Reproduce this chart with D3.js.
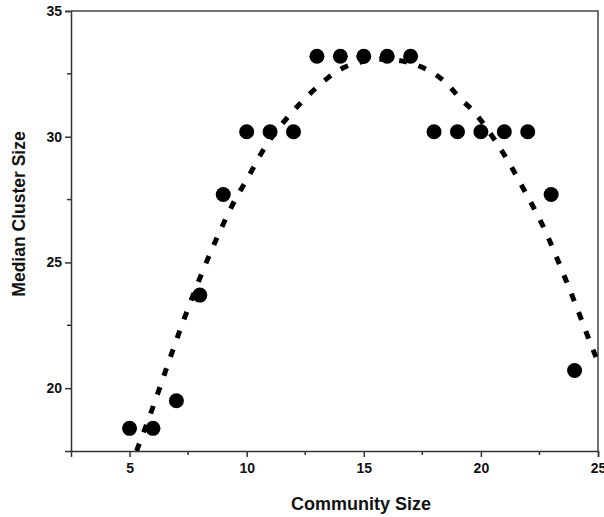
<!DOCTYPE html>
<html>
<head>
<meta charset="utf-8">
<script src="https://cdn.jsdelivr.net/npm/d3@7"></script>
<style>
  body { margin: 0; background: #fff; }
  text { font-family: "Liberation Sans", Arial, sans-serif; font-weight: bold; fill: #111; }
</style>
</head>
<body>
<div id="chart"></div>
<script>
// observed medians
const communitySize = [5, 6, 7, 8, 9, 10, 11, 12, 13, 14, 15, 16, 17, 18, 19, 20, 21, 22, 23, 24];
const medianCluster = [18.4, 18.4, 19.5, 23.7, 27.7, 30.2, 30.2, 30.2, 33.2, 33.2, 33.2, 33.2, 33.2,
  30.2, 30.2, 30.2, 30.2, 30.2, 27.7, 20.7];

// fitted curve
const fitX = [5.3, 6.0, 6.64, 7.28, 7.97, 8.69, 9.5, 10.0, 10.9, 12.1, 13.47, 14.2, 15.0, 15.9, 16.8,
  17.74, 18.47, 19.1, 19.75, 20.9, 21.8, 22.65, 23.42, 24.1, 24.79, 25.0];
const fitY = [17.5, 19.25, 20.96, 22.63, 24.3, 25.89, 27.48, 28.28, 29.75, 31.14, 32.34, 32.77, 33.0, 33.08, 32.98,
  32.65, 32.18, 31.54, 30.94, 29.43, 27.96, 26.45, 24.78, 23.19, 21.52, 21.05];

const xTicks = [5, 10, 15, 20, 25];
const yTicks = [20, 25, 30, 35];
const xMinor = [7.5, 12.5, 17.5, 22.5];
const yMinor = [22.5, 27.5, 32.5];

const width = 604, height = 517;
const margin = { top: 11, right: 6, bottom: 66, left: 71 };
const w = width - margin.left - margin.right,
  h = height - margin.top - margin.bottom;

const x = d3.scaleLinear().domain([2.5, 25]).range([0, w]);
const y = d3.scaleLinear().domain([17.5, 35]).range([h, 0]);

const svg = d3.select("#chart").append("svg")
  .attr("width", width)
  .attr("height", height);

svg.append("defs").append("clipPath")
  .attr("id", "clip")
  .append("rect")
  .attr("width", w)
  .attr("height", h);

const g = svg.append("g")
  .attr("transform", "translate(" + margin.left + "," + margin.top + ")");

// axes
const xAxis = d3.axisBottom(x).tickValues(xTicks).tickSize(6).tickPadding(6);
const yAxis = d3.axisLeft(y).tickValues(yTicks).tickSize(6).tickPadding(3);

const gx = g.append("g")
  .attr("transform", "translate(0," + h + ")")
  .call(xAxis);
const gy = g.append("g").call(yAxis);

[gx, gy].forEach(a => {
  a.select(".domain").attr("stroke", "#333").attr("stroke-width", 1.5);
  a.selectAll(".tick line").attr("stroke", "#333").attr("stroke-width", 1.5);
  a.selectAll("text").attr("font-size", 14).attr("font-weight", "bold")
    .attr("font-family", "'Liberation Sans', Arial, sans-serif").attr("fill", "#111");
});

// minor ticks
g.append("g").selectAll("line").data(xMinor).enter().append("line")
  .attr("x1", d => x(d)).attr("x2", d => x(d))
  .attr("y1", h).attr("y2", h + 4)
  .attr("stroke", "#333").attr("stroke-width", 1.5);
g.append("g").selectAll("line").data(yMinor).enter().append("line")
  .attr("x1", 0).attr("x2", -4)
  .attr("y1", d => y(d)).attr("y2", d => y(d))
  .attr("stroke", "#333").attr("stroke-width", 1.5);

// frame top & right
g.append("path")
  .attr("d", "M0,0H" + w + "V" + h)
  .attr("fill", "none")
  .attr("stroke", "#444")
  .attr("stroke-width", 1.5);

// fitted curve
const fit = fitX.map((d, i) => [d, fitY[i]]);
const line = d3.line()
  .x(d => x(d[0]))
  .y(d => y(d[1]))
  .curve(d3.curveCatmullRom);

g.append("path")
  .datum(fit)
  .attr("clip-path", "url(#clip)")
  .attr("d", line)
  .attr("fill", "none")
  .attr("stroke", "#000")
  .attr("stroke-width", 5)
  .attr("stroke-dasharray", "8,12");

// points
g.append("g").selectAll("circle")
  .data(communitySize)
  .enter().append("circle")
  .attr("cx", d => x(d))
  .attr("cy", (d, i) => y(medianCluster[i]))
  .attr("r", 7.5)
  .attr("fill", "#000");

// axis titles
svg.append("text")
  .attr("x", 361)
  .attr("y", 510)
  .attr("text-anchor", "middle")
  .attr("font-size", 18)
  .text("Community Size");

svg.append("text")
  .attr("transform", "translate(25,214) rotate(-90)")
  .attr("text-anchor", "middle")
  .attr("font-size", 17.5)
  .text("Median Cluster Size");
</script>
</body>
</html>
